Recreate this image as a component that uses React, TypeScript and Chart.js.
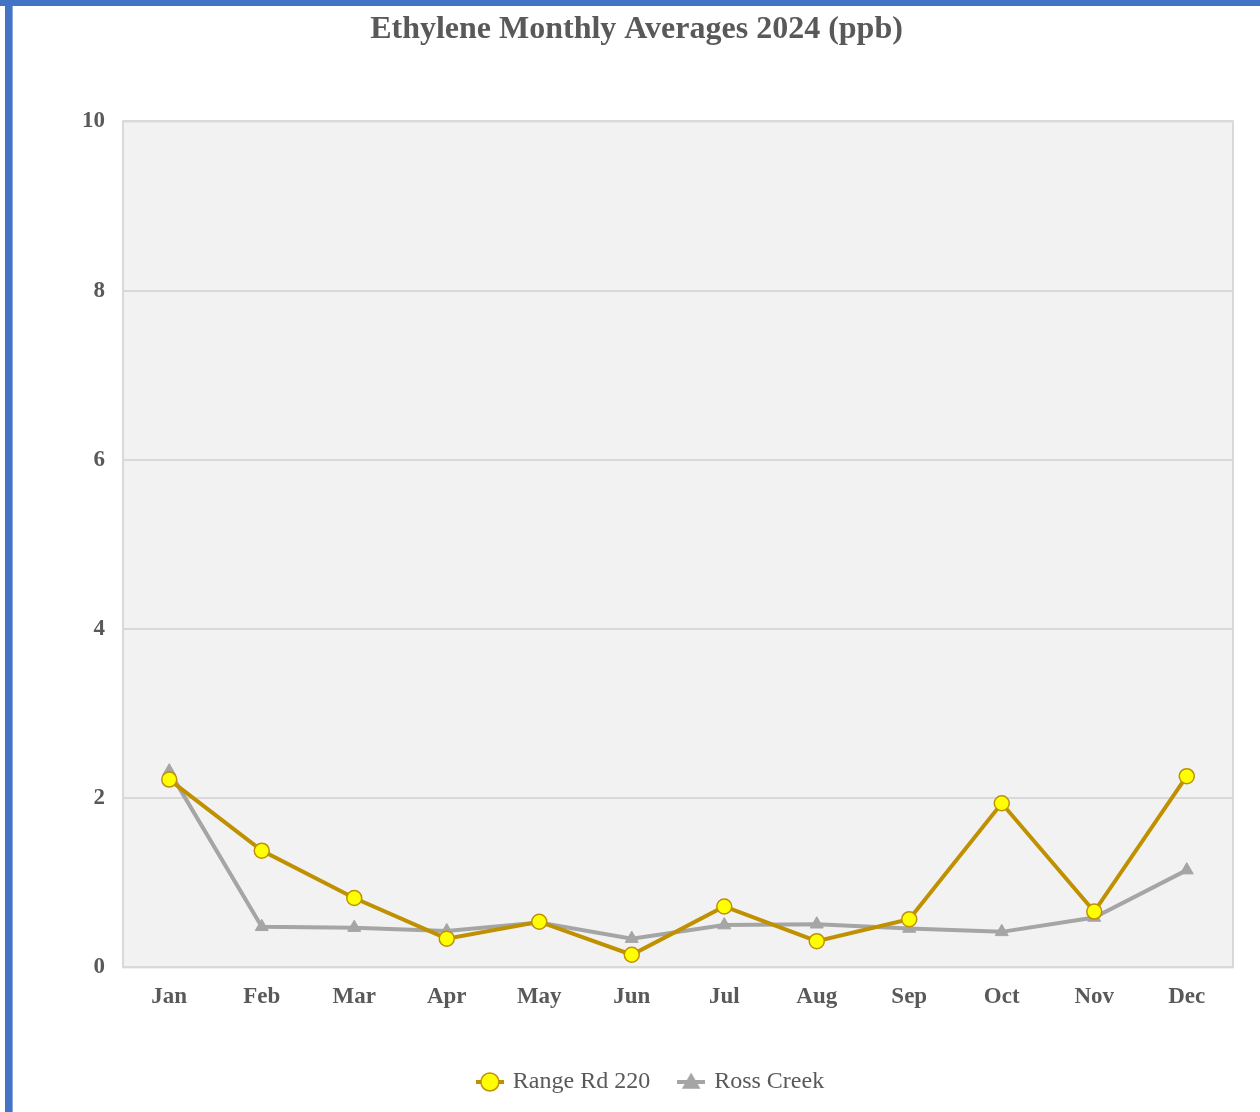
import React, { useEffect, useRef } from 'react';
import { Chart, registerables } from 'chart.js';

Chart.register(...registerables);

const titleText = 'Ethylene Monthly Averages 2024 (ppb)';
const months = ['Jan', 'Feb', 'Mar', 'Apr', 'May', 'Jun', 'Jul', 'Aug', 'Sep', 'Oct', 'Nov', 'Dec'];
const rangeRd220 = [2.22, 1.38, 0.82, 0.34, 0.54, 0.15, 0.72, 0.31, 0.57, 1.94, 0.66, 2.26];
const rossCreek = [2.32, 0.48, 0.47, 0.43, 0.53, 0.34, 0.5, 0.51, 0.46, 0.42, 0.59, 1.15];
const yMin = 0;
const yMax = 10;
const yStep = 2;

const SERIF = '"Liberation Serif", "Times New Roman", serif';
const GOLD = '#bf9000';
const YELLOW = '#ffff00';
const GRAY = '#a5a5a5';
const TEXT = '#595959';

function makeIcon(lineColor: string, kind: 'circle' | 'triangle', fill: string, stroke: string) {
  const c = document.createElement('canvas');
  c.width = 28;
  c.height = 22;
  const ctx = c.getContext('2d')!;
  ctx.strokeStyle = lineColor;
  ctx.lineWidth = 4;
  ctx.beginPath();
  ctx.moveTo(0, 11);
  ctx.lineTo(28, 11);
  ctx.stroke();
  ctx.fillStyle = fill;
  ctx.strokeStyle = stroke;
  ctx.lineWidth = 1.5;
  ctx.beginPath();
  if (kind === 'circle') {
    ctx.arc(14, 11, 9, 0, Math.PI * 2);
  } else {
    ctx.moveTo(14, 3);
    ctx.lineTo(22, 17);
    ctx.lineTo(6, 17);
    ctx.closePath();
  }
  ctx.fill();
  ctx.stroke();
  return c;
}

const plotBg = {
  id: 'plotBg',
  afterLayout(chart: any) {
    const lg = chart.legend;
    if (lg) {
      lg.left += 15;
      lg.right += 15;
    }
  },
  beforeDraw(chart: any) {
    const { ctx, chartArea } = chart;
    ctx.save();
    ctx.fillStyle = '#ffffff';
    ctx.fillRect(0, 0, chart.width, chart.height);
    ctx.fillStyle = '#f2f2f2';
    ctx.fillRect(chartArea.left, chartArea.top, chartArea.right - chartArea.left, chartArea.bottom - chartArea.top);
    ctx.restore();
  },
  beforeDatasetsDraw(chart: any) {
    const { ctx, chartArea } = chart;
    ctx.save();
    ctx.strokeStyle = '#d9d9d9';
    ctx.lineWidth = 2;
    ctx.strokeRect(chartArea.left, chartArea.top, chartArea.right - chartArea.left, chartArea.bottom - chartArea.top);
    ctx.restore();
  },
};

export default function App() {
  const ref = useRef<HTMLCanvasElement | null>(null);

  useEffect(() => {
    if (!ref.current) return;
    const icons = [
      makeIcon(GOLD, 'circle', YELLOW, GOLD),
      makeIcon(GRAY, 'triangle', GRAY, GRAY),
    ];
    const chart = new Chart(ref.current, {
      type: 'line',
      data: {
        labels: months,
        datasets: [
          {
            label: 'Range Rd 220',
            data: rangeRd220,
            borderColor: GOLD,
            borderWidth: 4,
            backgroundColor: YELLOW,
            pointBackgroundColor: YELLOW,
            pointBorderColor: GOLD,
            pointBorderWidth: 1.5,
            pointRadius: 7.5,
            pointStyle: 'circle',
            tension: 0,
          },
          {
            label: 'Ross Creek',
            data: rossCreek,
            borderColor: GRAY,
            borderWidth: 4,
            backgroundColor: GRAY,
            pointBackgroundColor: GRAY,
            pointBorderColor: GRAY,
            pointBorderWidth: 1,
            pointRadius: 7.5,
            pointStyle: 'triangle',
            tension: 0,
          },
        ],
      },
      options: {
        responsive: false,
        animation: false,
        layout: { padding: { left: 13, right: 0, top: 0, bottom: 8 } },
        plugins: {
          title: {
            display: true,
            text: titleText,
            color: TEXT,
            font: { family: SERIF, size: 32, weight: 'bold' },
            padding: { top: 11, bottom: 72 },
          },
          legend: {
            position: 'bottom',
            labels: {
              color: TEXT,
              font: { family: SERIF, size: 24 },
              usePointStyle: true,
              pointStyleWidth: 22,
              padding: 30,
              generateLabels: (chart: any) => {
                const base = Chart.defaults.plugins.legend.labels.generateLabels(chart);
                return base.map((l: any, i: number) => ({ ...l, pointStyle: icons[i] }));
              },
            },
          },
          tooltip: { enabled: false },
        },
        scales: {
          x: {
            offset: true,
            grid: { display: false, drawTicks: false },
            border: { display: false },
            ticks: {
              color: TEXT,
              font: { family: SERIF, size: 23, weight: 'bold' },
              padding: 16,
              maxRotation: 0,
            },
            afterFit: (scale: any) => {
              scale.height += 13;
            },
          },
          y: {
            min: yMin,
            max: yMax,
            grid: { color: '#d9d9d9', lineWidth: 2, drawTicks: false },
            border: { display: false },
            ticks: {
              stepSize: yStep,
              color: TEXT,
              font: { family: SERIF, size: 23, weight: 'bold' },
              padding: 18,
            },
            afterFit: (scale: any) => {
              scale.width = 110;
            },
          },
          yRight: {
            position: 'right',
            display: true,
            grid: { display: false, drawTicks: false },
            border: { display: false },
            ticks: { display: false },
            afterFit: (scale: any) => {
              scale.width = 27;
            },
          },
        },
      },
      plugins: [plotBg],
    });
    return () => chart.destroy();
  }, []);

  return (
    <div style={{ position: 'fixed', left: 0, top: 0, width: 1260, height: 1112, background: '#fff' }}>
      <canvas ref={ref} width={1260} height={1112} style={{ position: 'absolute', left: 0, top: 0, width: 1260, height: 1112 }} />
      <div style={{ position: 'absolute', left: 0, top: 0, width: 1260, height: 6, background: '#4472c4' }} />
      <div style={{ position: 'absolute', left: 5, top: 0, width: 7, height: 1112, background: '#4472c4' }} />
      <div style={{ position: 'absolute', left: 12, top: 6, width: 1, height: 1106, background: '#8eaadb' }} />
    </div>
  );
}
